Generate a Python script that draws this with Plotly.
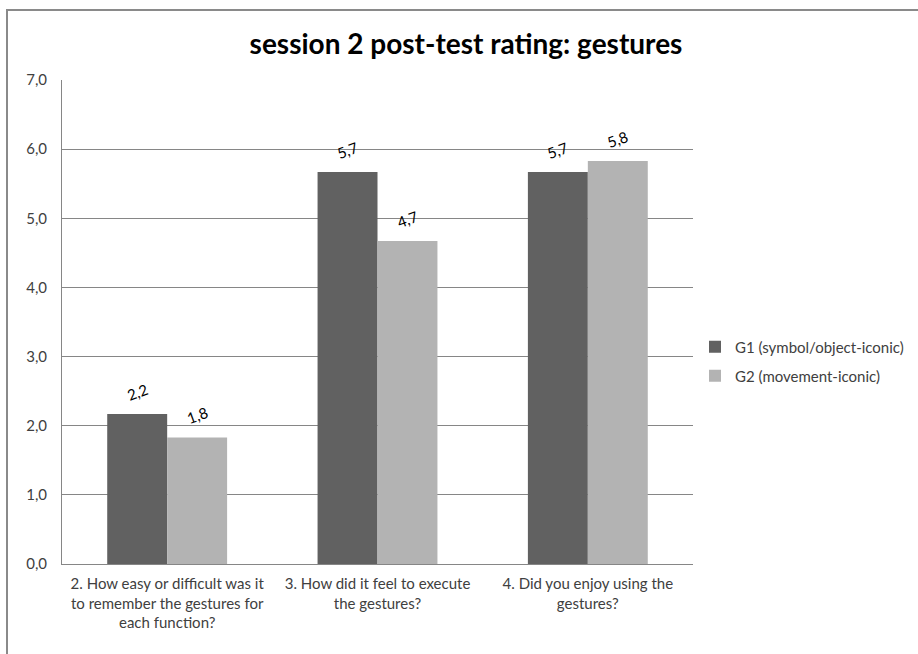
import plotly.graph_objects as go

categories = [
    "2. How easy or difficult was it<br>to remember the gestures for<br>each function?",
    "3. How did it feel to execute<br>the gestures?",
    "4. Did you enjoy using the<br>gestures?",
]
series_names = ["G1 (symbol/object-iconic)", "G2 (movement-iconic)"]
g1_values = [2.17, 5.67, 5.67]
g2_values = [1.83, 4.67, 5.83]
g1_labels = ["2,2", "5,7", "5,7"]
g2_labels = ["1,8", "4,7", "5,8"]
tick_vals = [0, 1, 2, 3, 4, 5, 6, 7]
tick_text = ["0,0", "1,0", "2,0", "3,0", "4,0", "5,0", "6,0", "7,0"]
title_text = "session 2 post-test rating: gestures"

FONT = "Lato"
colors = ["#616161", "#b3b3b3"]

# plot area in pixels
L, R, T, B = 62, 693, 80, 564
W, H = 918, 654
pw, ph = R - L, B - T

def px_x(p):
    return (p - L) / pw

def px_y(p):
    return (B - p) / ph

fig = go.Figure()
fig.add_trace(go.Bar(x=categories, y=g1_values, name=series_names[0],
                     marker=dict(color=colors[0], line=dict(width=0)), legend="legend"))
fig.add_trace(go.Bar(x=categories, y=g2_values, name=series_names[1],
                     marker=dict(color=colors[1], line=dict(width=0)), legend="legend2"))

annotations = []
for vals, labs, shift in [(g1_values, g1_labels, -30), (g2_values, g2_labels, 30)]:
    for c, v, t in zip(categories, vals, labs):
        annotations.append(dict(x=c, y=v, xref="x", yref="y", text=t, showarrow=False,
                                xshift=shift, yshift=22, textangle=-20,
                                font=dict(family=FONT, size=15, color="#000000")))

fig.update_layout(
    width=W, height=H,
    margin=dict(l=L, r=W - R, t=T, b=H - B, autoexpand=False),
    paper_bgcolor="white", plot_bgcolor="white",
    title=dict(text="<b>" + title_text + "</b>", x=466 / W, xanchor="center",
               y=1 - 44 / H, yanchor="middle",
               font=dict(family=FONT, size=28, color="#000000")),
    barmode="group", bargap=0.43, bargroupgap=0,
    font=dict(family=FONT, size=15, color="#404040"),
    xaxis=dict(showline=True, linecolor="#868686", linewidth=1, showgrid=False,
               ticks="", tickfont=dict(family=FONT, size=15, color="#404040"),
               ticklabelstandoff=6, automargin=False),
    yaxis=dict(range=[0, 7], tickvals=tick_vals, ticktext=tick_text,
               showgrid=True, gridcolor="#868686", gridwidth=1,
               showline=True, linecolor="#868686", linewidth=1, zeroline=False,
               ticks="", tickfont=dict(family=FONT, size=15, color="#404040"),
               ticklabelstandoff=11, automargin=False),
    showlegend=True,
    legend=dict(x=px_x(695), y=px_y(347), xanchor="left", yanchor="middle",
                bgcolor="rgba(0,0,0,0)", itemwidth=30,
                font=dict(family=FONT, size=15, color="#404040")),
    legend2=dict(x=px_x(695), y=px_y(376), xanchor="left", yanchor="middle",
                 bgcolor="rgba(0,0,0,0)", itemwidth=30,
                 font=dict(family=FONT, size=15, color="#404040")),
    annotations=annotations,
    shapes=[dict(type="rect", xref="paper", yref="paper",
                 x0=px_x(7), x1=px_x(940),
                 y0=px_y(680), y1=px_y(10),
                 line=dict(color="#8a8a8a", width=2), fillcolor="rgba(0,0,0,0)",
                 layer="below")],
)

fig.write_html("out.html", config={"displayModeBar": False},
               post_script="document.body.style.margin='0px';")
